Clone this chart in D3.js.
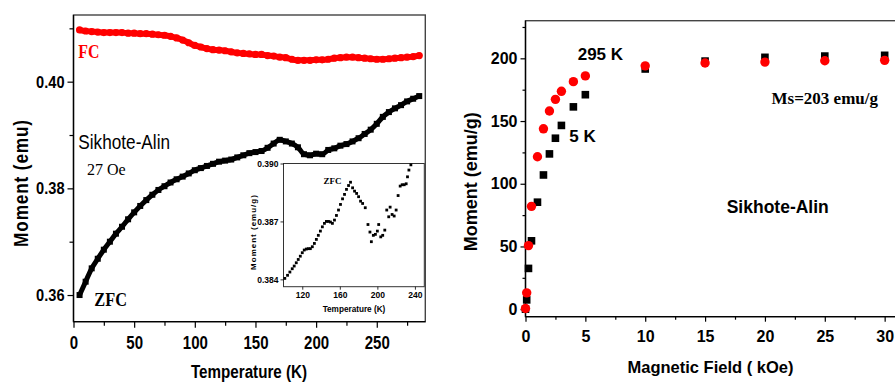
<!DOCTYPE html>
<html>
<head>
<meta charset="utf-8">
<script src="https://cdn.jsdelivr.net/npm/d3@7"></script>
<style>
  html, body { margin: 0; padding: 0; background: #fff; }
  svg { display: block; }
  .sans { font-family: "Liberation Sans", Arial, sans-serif; }
  .serif { font-family: "Liberation Serif", "Times New Roman", serif; }
</style>
</head>
<body>
<svg id="chart" width="895" height="383"></svg>
<script>
// ---- Left panel: ZFC / FC moment vs temperature (27 Oe) ----
const tempK = [5,10,15,20,25,30,35,40,45,50,55,60,65,70,75,80,85,90,95,100,
  105,110,115,120,125,130,135,140,145,150,155,160,165,170,175,180,185,190,195,200,
  205,210,215,220,225,230,235,240,245,250,255,260,265,270,275,280,285];
const zfcMoment = [0.3600,0.3625,0.3650,0.3668,0.3685,0.3700,0.3715,0.3728,0.3742,0.3755,
  0.3767,0.3778,0.3788,0.3797,0.3804,0.3811,0.3817,0.3822,0.3828,0.3834,
  0.3838,0.3842,0.3846,0.3850,0.3852,0.3854,0.3858,0.3862,0.3866,0.3868,
  0.3870,0.3876,0.3884,0.3891,0.3888,0.3884,0.3877,0.3864,0.3862,0.3865,
  0.3864,0.3872,0.3875,0.3880,0.3883,0.3888,0.3894,0.3902,0.3910,0.3921,
  0.3934,0.3943,0.3950,0.3956,0.3963,0.3968,0.3973];
const fcMoment = [0.4097,0.4095,0.4094,0.4093,0.4092,0.4092,0.4092,0.4092,0.4091,0.4091,
  0.4090,0.4090,0.4089,0.4088,0.4087,0.4085,0.4082,0.4078,0.4073,0.4068,
  0.4065,0.4062,0.4060,0.4059,0.4058,0.4056,0.4054,0.4053,0.4052,0.4051,
  0.4051,0.4049,0.4048,0.4046,0.4045,0.4042,0.4040,0.4040,0.4040,0.4041,
  0.4041,0.4042,0.4044,0.4045,0.4046,0.4046,0.4045,0.4044,0.4043,0.4042,
  0.4042,0.4043,0.4044,0.4045,0.4046,0.4047,0.4049];
const leftXTicks = [0,50,100,150,200,250];
const leftXMinor = [25,75,125,175,225,275];
const leftYTicks = [0.36,0.38,0.40];
const leftYMinor = [0.37,0.39,0.41];

// ---- Inset: ZFC detail, 100-250 K ----
const insetT = [101.4,104.3,106.8,109.3,111.4,113.6,115.7,117.9,120,122.1,124.3,126.4,128.6,130.7,
  132.9,135,137.1,139.3,141.4,143.6,145.7,147.9,150,152.1,154.3,156.4,158.6,160.7,162.9,165,
  167.1,169.3,171.4,173.6,175.7,177.9,180,182.1,184.3,187.1,190,192.1,193.6,195.7,197.9,200,
  201.4,203.6,205.7,207.9,210,212.1,213.6,215.7,217.9,220,222.1,224.3,226.4,228.6,230.7,232.1,
  233.6,235.7];
const insetM = [0.38405,0.38421,0.38438,0.38455,0.38469,0.38486,0.38503,0.38520,0.38538,0.38552,
  0.38557,0.38559,0.38559,0.38569,0.38586,0.38607,0.38628,0.38650,0.38672,0.38690,0.38700,0.38700,
  0.38697,0.38690,0.38707,0.38731,0.38759,0.38788,0.38817,0.38840,0.38866,0.38886,0.38903,0.38874,
  0.38857,0.38845,0.38828,0.38805,0.38793,0.38771,0.38684,0.38645,0.38595,0.38628,0.38633,0.38650,
  0.38684,0.38620,0.38628,0.38655,0.38759,0.38724,0.38774,0.38736,0.38728,0.38759,0.38834,0.38883,
  0.38890,0.38890,0.38895,0.38931,0.38966,0.38993];
const insetXTicks = [120,160,200,240];
const insetYTicks = [0.384,0.387,0.390];

// ---- Right panel: M(H) loops at 5 K and 295 K ----
const fieldKOe = [0,0.1,0.25,0.5,1,1.5,2,2.5,3,4,5,10,15,20,25,30];
const moment5K = [0,7.4,32.5,54.5,85.3,107,123.8,136.3,146.5,161.3,171,191.5,197.8,200.8,201.8,202.4];
const moment295K = [0.5,13,50.7,82,121.5,143.8,158,167.3,173.7,181.4,186,194,196.3,197,198.1,198.4];
const rightXTicks = [0,5,10,15,20,25,30];
const rightXMinor = [2.5,7.5,12.5,17.5,22.5,27.5];
const rightYTicks = [0,50,100,150,200];
const rightYMinor = [25,75,125,175,225];

const svg = d3.select("#chart");
const SQ = 0.86; // horizontal compression of left-panel lettering

function axisStyle(g, color) {
  g.select(".domain").remove();
  g.selectAll("line").attr("stroke", color || "#000").attr("stroke-width", 1.2);
}

// ===================== LEFT PANEL =====================
const xL = d3.scaleLinear().domain([0, 290]).range([73.5, 425.3]);
const yL = d3.scaleLinear().domain([0.355, 0.4125]).range([321.7, 15]);
const left = svg.append("g");

// frame
left.append("rect")
  .attr("x", xL.range()[0]).attr("y", yL.range()[1])
  .attr("width", xL.range()[1] - xL.range()[0])
  .attr("height", yL.range()[0] - yL.range()[1])
  .attr("fill", "none").attr("stroke", "#444").attr("stroke-width", 1.4);

// x axis
const gxL = left.append("g").attr("transform", `translate(0,${yL.range()[0]})`)
  .call(d3.axisBottom(xL).tickValues(leftXTicks).tickSize(6).tickPadding(8.5).tickFormat(d3.format("d")));
axisStyle(gxL);
gxL.selectAll("text").attr("class", "sans").attr("font-size", 17.5).attr("font-weight", "bold")
  .attr("fill", "#000").attr("transform", `scale(${SQ},1)`);
const gxLm = left.append("g").attr("transform", `translate(0,${yL.range()[0]})`)
  .call(d3.axisBottom(xL).tickValues(leftXMinor).tickSize(4).tickFormat(""));
axisStyle(gxLm);

// y axis
const gyL = left.append("g").attr("transform", `translate(${xL.range()[0]},0)`)
  .call(d3.axisLeft(yL).tickValues(leftYTicks).tickSize(6).tickFormat(d3.format(".2f")));
axisStyle(gyL);
gyL.selectAll("text").attr("class", "sans").attr("font-size", 17).attr("font-weight", "bold")
  .attr("fill", "#000").attr("x", -9 / SQ).attr("transform", `scale(${SQ},1)`);
const gyLm = left.append("g").attr("transform", `translate(${xL.range()[0]},0)`)
  .call(d3.axisLeft(yL).tickValues(leftYMinor).tickSize(4).tickFormat(""));
axisStyle(gyLm);
// left and bottom axis lines
left.append("line").attr("x1", xL.range()[0]).attr("x2", xL.range()[0])
  .attr("y1", yL.range()[0]).attr("y2", yL.range()[1]).attr("stroke", "#000").attr("stroke-width", 1.3);
left.append("line").attr("x1", xL.range()[0]).attr("x2", xL.range()[1])
  .attr("y1", yL.range()[0]).attr("y2", yL.range()[0]).attr("stroke", "#000").attr("stroke-width", 1.3);

// FC (red dots, dense)
const fcData = tempK.map((t, i) => [t, fcMoment[i]]);
const zfcData = tempK.map((t, i) => [t, zfcMoment[i]]);
const lineL = d3.line().x(d => xL(d[0])).y(d => yL(d[1])).curve(d3.curveMonotoneX);
left.append("path").datum(fcData).attr("d", lineL)
  .attr("fill", "none").attr("stroke", "#ff0000").attr("stroke-width", 6)
  .attr("stroke-linecap", "round").attr("stroke-linejoin", "round");
left.append("g").selectAll("circle").data(fcData).join("circle")
  .attr("cx", d => xL(d[0])).attr("cy", d => yL(d[1])).attr("r", 3.6).attr("fill", "#ff0000");

// ZFC (black squares, dense)
left.append("path").datum(zfcData).attr("d", lineL)
  .attr("fill", "none").attr("stroke", "#000").attr("stroke-width", 5)
  .attr("stroke-linejoin", "round");
left.append("g").selectAll("rect").data(zfcData).join("rect")
  .attr("x", d => xL(d[0]) - 3).attr("y", d => yL(d[1]) - 3)
  .attr("width", 6).attr("height", 6).attr("fill", "#000");

// labels (compressed horizontally)
function sqText(parent, x, y, txt, cls, size, weight, fill) {
  return parent.append("text").attr("class", cls)
    .attr("transform", `translate(${x},${y}) scale(${SQ},1)`)
    .attr("font-size", size).attr("font-weight", weight).attr("fill", fill).text(txt);
}
sqText(left, 78.3, 58.3, "FC", "serif", 18.5, "bold", "#ff0000");
sqText(left, 78.3, 149.3, "Sikhote-Alin", "sans", 20, "normal", "#000");
left.append("text").attr("class", "serif").attr("x", 87).attr("y", 175)
  .attr("font-size", 16).attr("fill", "#000").text("27 Oe");
sqText(left, 94.3, 306, "ZFC", "serif", 19, "bold", "#000");
left.append("text").attr("class", "sans")
  .attr("transform", "translate(249,377.5) scale(0.8,1)")
  .attr("text-anchor", "middle").attr("font-size", 19).attr("font-weight", "bold")
  .attr("fill", "#000").text("Temperature (K)");
left.append("text").attr("class", "sans")
  .attr("transform", "translate(27.5,183) rotate(-90) scale(0.86,1)")
  .attr("text-anchor", "middle").attr("font-size", 20).attr("font-weight", "bold")
  .attr("letter-spacing", 1).text("Moment (emu)");

// ===================== INSET =====================
const xI = d3.scaleLinear().domain([100, 250]).range([283.5, 424.3]);
const yI = d3.scaleLinear().domain([0.38362, 0.390]).range([286.7, 163.5]);
const inset = svg.append("g");
inset.append("rect")
  .attr("x", xI.range()[0]).attr("y", yI.range()[1])
  .attr("width", xI.range()[1] - xI.range()[0])
  .attr("height", yI.range()[0] - yI.range()[1])
  .attr("fill", "#fff").attr("stroke", "#333").attr("stroke-width", 1);
const gxI = inset.append("g").attr("transform", `translate(0,${yI.range()[0]})`)
  .call(d3.axisBottom(xI).tickValues(insetXTicks).tickSize(3).tickPadding(2).tickFormat(d3.format("d")));
axisStyle(gxI);
gxI.selectAll("line").attr("stroke-width", 0.8);
gxI.selectAll("text").attr("class", "sans").attr("font-size", 8.5).attr("font-weight", "bold").attr("fill", "#000");
const gyI = inset.append("g").attr("transform", `translate(${xI.range()[0]},0)`)
  .call(d3.axisLeft(yI).tickValues(insetYTicks).tickSize(3).tickPadding(2).tickFormat(d3.format(".3f")));
axisStyle(gyI);
gyI.selectAll("line").attr("stroke-width", 0.8);
gyI.selectAll("text").attr("class", "sans").attr("font-size", 8.5).attr("font-weight", "bold").attr("fill", "#000");
inset.append("g").selectAll("rect").data(insetT.map((t, i) => [t, insetM[i]])).join("rect")
  .attr("x", d => xI(d[0]) - 1.4).attr("y", d => yI(d[1]) - 1.4)
  .attr("width", 2.8).attr("height", 2.8).attr("fill", "#000");
inset.append("text").attr("class", "serif").attr("x", 323.5).attr("y", 184)
  .attr("font-size", 9).attr("font-weight", "bold").attr("fill", "#000").text("ZFC");
inset.append("text").attr("class", "sans").attr("x", 354).attr("y", 311.5)
  .attr("text-anchor", "middle").attr("font-size", 8.2).attr("font-weight", "bold").text("Temperature (K)");
inset.append("text").attr("class", "sans")
  .attr("transform", "translate(255.5,232) rotate(-90)")
  .attr("text-anchor", "middle").attr("font-size", 8).attr("font-weight", "bold")
  .attr("letter-spacing", 1).text("Moment (emu/g)");

// ===================== RIGHT PANEL =====================
const xR = d3.scaleLinear().domain([0, 32]).range([525.5, 908.6]);
const yR = d3.scaleLinear().domain([-6, 230]).range([316.7, 20.7]);
const right = svg.append("g");

right.append("rect")
  .attr("x", xR.range()[0]).attr("y", yR.range()[1])
  .attr("width", xR.range()[1] - xR.range()[0])
  .attr("height", yR.range()[0] - yR.range()[1])
  .attr("fill", "none").attr("stroke", "#444").attr("stroke-width", 1.4);

const gxR = right.append("g").attr("transform", `translate(0,${yR.range()[0]})`)
  .call(d3.axisBottom(xR).tickValues(rightXTicks).tickSize(5).tickPadding(8.5).tickFormat(d3.format("d")));
axisStyle(gxR);
gxR.selectAll("text").attr("class", "sans").attr("font-size", 16).attr("font-weight", "bold").attr("fill", "#000");
const gxRm = right.append("g").attr("transform", `translate(0,${yR.range()[0]})`)
  .call(d3.axisBottom(xR).tickValues(rightXMinor).tickSize(3).tickFormat(""));
axisStyle(gxRm);

const gyR = right.append("g").attr("transform", `translate(${xR.range()[0]},0)`)
  .call(d3.axisLeft(yR).tickValues(rightYTicks).tickSize(5).tickPadding(3).tickFormat(d3.format("d")));
axisStyle(gyR);
gyR.selectAll("text").attr("class", "sans").attr("font-size", 16).attr("font-weight", "bold").attr("fill", "#000");
const gyRm = right.append("g").attr("transform", `translate(${xR.range()[0]},0)`)
  .call(d3.axisLeft(yR).tickValues(rightYMinor).tickSize(3).tickFormat(""));
axisStyle(gyRm);
right.append("line").attr("x1", xR.range()[0]).attr("x2", xR.range()[0])
  .attr("y1", yR.range()[0]).attr("y2", yR.range()[1]).attr("stroke", "#000").attr("stroke-width", 1.3);
right.append("line").attr("x1", xR.range()[0]).attr("x2", xR.range()[1])
  .attr("y1", yR.range()[0]).attr("y2", yR.range()[0]).attr("stroke", "#000").attr("stroke-width", 1.3);

// 5 K squares, then 295 K circles on top
right.append("g").selectAll("rect").data(fieldKOe.map((h, i) => [h, moment5K[i]])).join("rect")
  .attr("x", d => xR(d[0]) - 3.8).attr("y", d => yR(d[1]) - 3.8)
  .attr("width", 7.6).attr("height", 7.6).attr("fill", "#000");
right.append("g").selectAll("circle").data(fieldKOe.map((h, i) => [h, moment295K[i]])).join("circle")
  .attr("cx", d => xR(d[0])).attr("cy", d => yR(d[1])).attr("r", 4.7).attr("fill", "#ff0000");

right.append("text").attr("class", "sans").attr("x", 577.7).attr("y", 60)
  .attr("font-size", 17).attr("font-weight", "bold").text("295 K");
right.append("text").attr("class", "sans").attr("x", 569.3).attr("y", 141.7)
  .attr("font-size", 17).attr("font-weight", "bold").text("5 K");
right.append("text").attr("class", "serif").attr("x", 771.5).attr("y", 103.5)
  .attr("font-size", 17).attr("font-weight", "bold").text("Ms=203 emu/g");
right.append("text").attr("class", "sans").attr("x", 726.7).attr("y", 213.3)
  .attr("font-size", 17.5).attr("font-weight", "bold").text("Sikhote-Alin");
right.append("text").attr("class", "sans").attr("x", 710.5).attr("y", 372.7)
  .attr("text-anchor", "middle").attr("font-size", 16.5).attr("font-weight", "bold")
  .text("Magnetic Field ( kOe)");
right.append("text").attr("class", "sans")
  .attr("transform", "translate(477,181.7) rotate(-90)")
  .attr("text-anchor", "middle").attr("font-size", 18).attr("font-weight", "bold")
  .text("Moment (emu/g)");
</script>
</body>
</html>
